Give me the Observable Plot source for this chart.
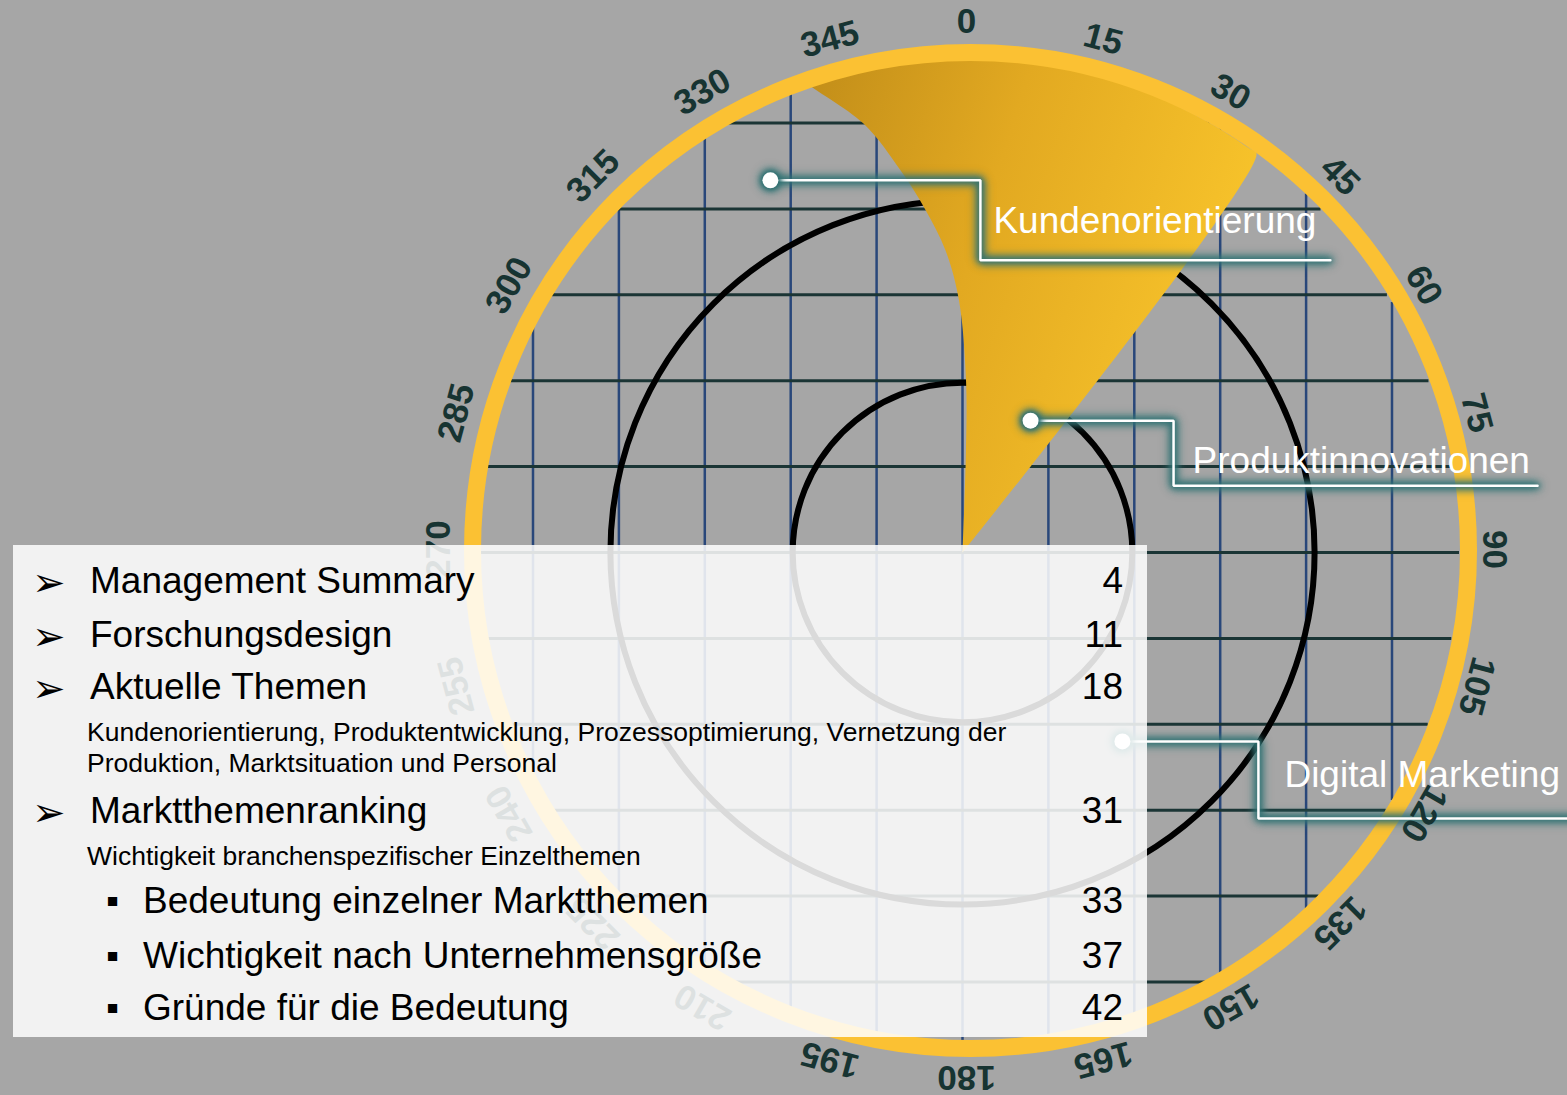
<!DOCTYPE html>
<html>
<head>
<meta charset="utf-8">
<script src="https://cdn.jsdelivr.net/npm/d3@7"></script>
<script src="https://cdn.jsdelivr.net/npm/@observablehq/plot@0.6"></script>
<style>
  html, body { margin: 0; padding: 0; background: #a6a6a6; }
  #wrap { position: relative; width: 1567px; height: 1095px; overflow: hidden; background: #a6a6a6; }
  #chart svg { display: block; }
  #panel { position: absolute; left: 13px; top: 545px; width: 1134px; height: 492px;
           background: rgba(255,255,255,0.855); }
  .toc { position: absolute; white-space: nowrap; line-height: 1; color: #000;
         font-family: "Liberation Sans", Arial, sans-serif; }
  .arrow { font-family: "DejaVu Sans", sans-serif; }
</style>
</head>
<body>
<div id="wrap">
  <div id="chart"></div>
  <div id="panel"></div>
</div>
<script>
// ---------------- data ----------------
const angleTicks = [0, 15, 30, 45, 60, 75, 90, 105, 120, 135, 150, 165,
                    180, 195, 210, 225, 240, 255, 270, 285, 300, 315, 330, 345];
const gridSteps = [-5, -4, -3, -2, -1, 0, 1, 2, 3, 4, 5];
const blackRings = [0.341, 0.707];          // radii as fraction of dial radius
// highlighted sector: curved left edge (angle°, radius) from tip outwards, straight right edge
const wedgeEdgeAngles = [0, 2.0, 1.2, -0.8, -3.2, -6.2, -9.2, -13.0, -18.3];
const wedgeEdgeRadii  = [0, 0.185, 0.343, 0.506, 0.607, 0.693, 0.777, 0.884, 0.992];
const wedgeRightAngle = 36.4;
// topic markers
const topics      = ["Kundenorientierung", "Produktinnovationen", "Digital Marketing"];
const topicAngles = [-27.3, 27.3, 139.75];
const topicRadii  = [0.841, 0.298, 0.497];
// table of contents
const tocTitles = ["Management Summary", "Forschungsdesign", "Aktuelle Themen",
  "Kundenorientierung, Produktentwicklung, Prozessoptimierung, Vernetzung der",
  "Produktion, Marktsituation und Personal",
  "Marktthemenranking", "Wichtigkeit branchenspezifischer Einzelthemen",
  "Bedeutung einzelner Marktthemen", "Wichtigkeit nach Unternehmensgröße", "Gründe für die Bedeutung"];
const tocPages  = ["4", "11", "18", "", "", "31", "", "33", "37", "42"];
const tocKinds  = ["main", "main", "main", "note", "note", "main", "note", "sub", "sub", "sub"];

// ---------------- layout ----------------
const W = 1567, H = 1095;
const U = 498;              // pixels per dial-radius unit
const OX = 962, OY = 552;   // dial origin in pixels
const px = v => v / U;
const rad = a => a * Math.PI / 180;
const polar = (angle, r, c = [0, 0]) => ({x: c[0] + r * Math.sin(rad(angle)), y: c[1] + r * Math.cos(rad(angle))});

const ringCenter = [px(8), px(2)], ringR = 1.0;
const labelCenter = [px(4), px(3)], labelR = px(528);
const gridStep = px(85.9), gridClipC = [px(4), px(1)], gridClipR = px(493);

const hGrid = gridSteps.map(k => {
  const y = k * gridStep, h = Math.sqrt(Math.max(0, gridClipR ** 2 - (y - gridClipC[1]) ** 2));
  return {y, x1: gridClipC[0] - h, x2: gridClipC[0] + h};
});
const vGrid = gridSteps.map(k => {
  const x = k * gridStep, h = Math.sqrt(Math.max(0, gridClipR ** 2 - (x - gridClipC[0]) ** 2));
  return {x, y1: gridClipC[1] - h, y2: gridClipC[1] + h};
});

// wedge polygon
const arcR = 0.995;
const wedgePts = [polar(0, 0)];
const leftTop = wedgeEdgeAngles[wedgeEdgeAngles.length - 1];
for (let a = wedgeRightAngle; a > leftTop; a -= 1) wedgePts.push(polar(a, arcR));
wedgePts.push(polar(leftTop, arcR));
for (let i = wedgeEdgeAngles.length - 1; i >= 0; i--) wedgePts.push(polar(wedgeEdgeAngles[i], wedgeEdgeRadii[i]));

const labels = angleTicks.map(a => ({...polar(a, labelR, labelCenter), angle: a, text: String(a)}));

const calloutLayout = [
  {elbow: 210, drop: 80, end: 560, tx: 13, ty: 27},
  {elbow: 143, drop: 65, end: 507, tx: 19, ty: 13},
  {elbow: 136, drop: 77, end: 470, tx: 26, ty: 31}
];
const dots = topics.map((t, i) => ({...polar(topicAngles[i], topicRadii[i]), topic: t}));
const calloutPaths = [], calloutTexts = [];
dots.forEach((d, i) => {
  const L = calloutLayout[i];
  const ex = d.x + px(L.elbow), by = d.y - px(L.drop);
  calloutPaths.push({x: d.x, y: d.y, topic: d.topic}, {x: ex, y: d.y, topic: d.topic},
                    {x: ex, y: by, topic: d.topic}, {x: d.x + px(L.end), y: by, topic: d.topic});
  calloutTexts.push({x: ex + px(L.tx), y: by + px(L.ty), topic: d.topic});
});

const svg = Plot.plot({
  width: W, height: H, margin: 0,
  x: {domain: [-OX / U, (W - OX) / U], axis: null},
  y: {domain: [-(H - OY) / U, OY / U], axis: null},
  r: {type: "identity"},
  style: {background: "transparent", overflow: "visible"},
  marks: [
    Plot.ruleX(vGrid, {x: "x", y1: "y1", y2: "y2", stroke: "#29477a", strokeWidth: 2.5}),
    Plot.ruleY(hGrid, {y: "y", x1: "x1", x2: "x2", stroke: "#1b3535", strokeWidth: 3}),
    Plot.dot(blackRings, {x: () => 0, y: () => 0, r: d => d * U, fill: "none", stroke: "#000", strokeWidth: 6}),
    Plot.line(wedgePts, {x: "x", y: "y", fill: "url(#wedgeGrad)", stroke: "none", curve: "catmull-rom"}),
    Plot.dot([ringR], {x: () => ringCenter[0], y: () => ringCenter[1], r: d => d * U, fill: "none", stroke: "#fbc133", strokeWidth: 17}),
    Plot.line(calloutPaths, {x: "x", y: "y", z: "topic", stroke: "#ffffff", strokeWidth: 2.5, strokeLinejoin: "miter"}),
    Plot.dot(dots, {x: "x", y: "y", r: () => 8, fill: "#ffffff", stroke: "none"}),
    Plot.text(calloutTexts, {x: "x", y: "y", text: "topic", textAnchor: "start", lineAnchor: "bottom",
      fill: "#ffffff", fontSize: 37, fontFamily: "Liberation Sans, Arial, sans-serif"}),
    Plot.text(labels, {x: "x", y: "y", text: "text", rotate: "angle", textAnchor: "middle", lineAnchor: "middle",
      fill: "#173432", fontSize: 35, fontWeight: "bold", fontFamily: "Liberation Sans, Arial, sans-serif"})
  ]
});

// gradient for the highlighted sector
const defs = d3.select(svg).insert("defs", ":first-child");
const lg = defs.append("linearGradient").attr("id", "wedgeGrad")
  .attr("x1", 0).attr("y1", 0).attr("x2", 1).attr("y2", 0.35);
[[0, "#c18d19"], [0.45, "#e2a921"], [1, "#f8c42b"]].forEach(([o, c]) =>
  lg.append("stop").attr("offset", o).attr("stop-color", c));

// glow for the callouts
const glow = "drop-shadow(0 0 3px #2c6d6e) drop-shadow(0 0 4px #2c6d6e) drop-shadow(0 0 2px #3a7c7d)";
const lineGs = svg.querySelectorAll('g[aria-label="line"]');
lineGs[lineGs.length - 1].style.filter = glow;
const dotGs = svg.querySelectorAll('g[aria-label="dot"]');
dotGs[dotGs.length - 1].style.filter = glow;

document.getElementById("chart").appendChild(svg);

// ---------------- table of contents panel ----------------
const panelX = 13, panelY = 545;
const rowBaselines = [593, 647, 699, 741, 772, 823, 865, 913, 968, 1020];
const kindStyle = {
  main: {size: 37, x: 90, bullet: "➢", bx: 32, bsize: 40, bdy: 3},
  note: {size: 26.5, x: 87},
  sub:  {size: 37, x: 143, bullet: "▪", bx: 106, bsize: 37, bdy: 0}
};
const pageRight = 1123;
const panel = d3.select("#panel");
const asc = 0.8465;
tocTitles.forEach((t, i) => {
  const s = kindStyle[tocKinds[i]], b = rowBaselines[i];
  panel.append("div").attr("class", "toc")
    .style("left", (s.x - panelX) + "px").style("top", (b - asc * s.size - panelY) + "px")
    .style("font-size", s.size + "px").text(t);
  if (s.bullet) {
    panel.append("div").attr("class", "toc" + (s.bullet === "➢" ? " arrow" : ""))
      .style("left", (s.bx - panelX) + "px")
      .style("top", (b - asc * s.bsize - panelY + s.bdy) + "px")
      .style("font-size", s.bsize + "px").text(s.bullet);
  }
  if (tocPages[i]) {
    panel.append("div").attr("class", "toc")
      .style("right", (panelX + 1134 - pageRight) + "px").style("top", (b - asc * 37 - panelY) + "px")
      .style("font-size", "37px").style("text-align", "right").text(tocPages[i]);
  }
});
</script>
</body>
</html>
